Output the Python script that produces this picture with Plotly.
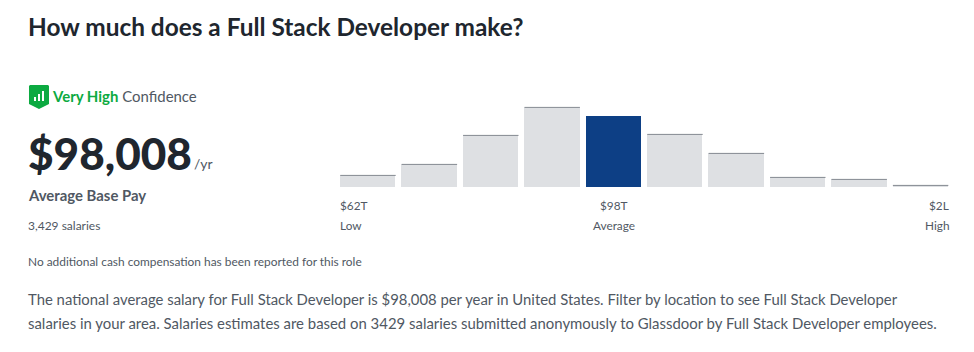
import plotly.graph_objects as go

W, H = 974, 352

bins = ["b1", "b2", "b3", "b4", "b5", "b6", "b7", "b8", "b9", "b10"]
counts = [12, 23, 52, 80, 71, 53, 34, 10, 8, 2]
average_bin = "b5"

title = "How much does a Full Stack Developer make?"
body_1 = ("The national average salary for Full Stack Developer is $98,008 per year in United States. "
          "Filter by location to see Full Stack Developer")
body_2 = ("salaries in your area. Salaries estimates are based on 3429 salaries submitted anonymously "
          "to Glassdoor by Full Stack Developer employees.")

DARK = "#20262e"
MID = "#505863"
GREEN = "#0caa41"
BAR = "#dee0e3"
CAP = "#858a92"
BLUE = "#0d3f85"

bar_colors = [BLUE if b == average_bin else BAR for b in bins]
cap_colors = ["rgba(0,0,0,0)" if b == average_bin else CAP for b in bins]

fig = go.Figure()
fig.add_trace(go.Bar(x=bins, y=counts, marker=dict(color=bar_colors, line=dict(width=0)),
                     width=0.904, hoverinfo="skip"))
fig.add_trace(go.Scatter(x=bins, y=counts, mode="markers", hoverinfo="skip", cliponaxis=False,
                         marker=dict(symbol="line-ew", size=39.6,
                                     line=dict(color=cap_colors, width=1))))


def px(x):
    return x / W


def py(y):
    return 1 - y / H


def label(text, x, y, size, color=MID, anchor="left", weight=None):
    fig.add_annotation(text=text, x=px(x), y=py(y), xref="paper", yref="paper",
                       xanchor=anchor, yanchor="middle", showarrow=False,
                       font=dict(family="Lato", size=size, color=color, weight=weight or 400),
                       align=anchor, borderpad=0, borderwidth=0)


label(title, 28, 27, 24.4, DARK, weight=700)
label(f"<span style='color:{GREEN}'><b>Very High</b></span> Confidence", 52, 96, 14.95, MID)
label("$98,008", 28, 152, 44.1, DARK, weight=900)
label("/yr", 194, 163, 14, MID)
label("Average Base Pay", 28, 195, 14.9, MID, weight=700)
label("3,429 salaries", 28, 225, 12, MID)
label("No additional cash compensation has been reported for this role", 28, 261, 11.9, MID)
label("$62T", 340, 205, 11.8, MID)
label("Low", 340, 225, 11.8, MID)
label("$98T", 614, 205, 11.8, MID, anchor="center")
label("Average", 614, 225, 11.8, MID, anchor="center")
label("$2L", 948.5, 205, 11.8, MID, anchor="right")
label("High", 948.5, 225, 11.8, MID, anchor="right")
label(body_1, 28, 299, 14.86, MID)
label(body_2, 28, 323, 14.91, MID)


def path_px(points):
    return "M " + " L ".join(f"{px(a):.5f},{py(b):.5f}" for a, b in points) + " Z"


fig.add_shape(type="path", xref="paper", yref="paper", line=dict(width=0), fillcolor=GREEN,
              path=path_px([(30, 85), (48, 85), (49, 86), (49, 104), (39, 109), (29, 104), (29, 86)]))
for x0, top in [(34, 97), (38, 94), (42, 91)]:
    fig.add_shape(type="rect", xref="paper", yref="paper", line=dict(width=0), fillcolor="white",
                  x0=px(x0), x1=px(x0 + 2), y0=py(101), y1=py(top))

fig.update_layout(
    width=W, height=H, margin=dict(l=0, r=0, t=0, b=0), showlegend=False,
    paper_bgcolor="white", plot_bgcolor="white", bargap=0,
    xaxis=dict(domain=[px(337.3), px(951.3)], range=[-0.5, 9.5], visible=False,
               categoryorder="array", categoryarray=bins),
    yaxis=dict(domain=[py(187.4), py(107.4)], range=[0, 80], visible=False),
)
fig.write_html("out.html", config={"displayModeBar": False},
               post_script="document.body.style.margin='0';")
